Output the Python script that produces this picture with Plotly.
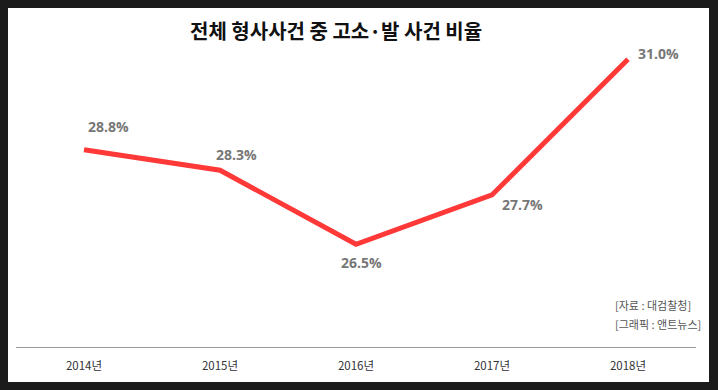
import plotly.graph_objects as go

years = ["2014년", "2015년", "2016년", "2017년", "2018년"]
ratios = [28.8, 28.3, 26.5, 27.7, 31.0]
labels = ["28.8%", "28.3%", "26.5%", "27.7%", "31.0%"]
label_shift_x = [24, 16, 5, 30, 30]
label_shift_y = [23, 16, -18, -10, 6]

W, H = 718, 390
ML, MR, MT, MB = 16, 22, 30, 43
pw, ph = W - ML - MR, H - MT - MB

def px(xpix):
    return (xpix - ML) / pw

def py(ypix):
    return (H - MB - ypix) / ph

fig = go.Figure()
fig.add_trace(go.Scatter(
    x=list(range(len(years))), y=ratios, mode="lines",
    line=dict(color="#ff3838", width=5),
    hoverinfo="skip", showlegend=False,
))

ann = []
for i, (v, t) in enumerate(zip(ratios, labels)):
    ann.append(dict(x=i, y=v, text=t, showarrow=False,
                    xshift=label_shift_x[i], yshift=label_shift_y[i],
                    font=dict(family="Open Sans", size=14, color="#777777", weight="bold")))

ann.append(dict(x=px(336), y=py(31), xref="paper", yref="paper",
                xanchor="center", yanchor="middle",
                text="<b>전체 형사사건 중 고소·발 사건 비율</b>", showarrow=False,
                font=dict(family="Noto Sans CJK KR", size=20, color="#111111")))
ann.append(dict(x=px(613), y=py(305), xref="paper", yref="paper",
                xanchor="left", yanchor="middle",
                text="[자료 : 대검찰청]", showarrow=False,
                font=dict(family="Noto Sans CJK KR", size=11, color="#555555")))
ann.append(dict(x=px(613), y=py(324), xref="paper", yref="paper",
                xanchor="left", yanchor="middle",
                text="[그래픽 : 앤트뉴스]", showarrow=False,
                font=dict(family="Noto Sans CJK KR", size=11, color="#555555")))

fig.update_layout(
    width=W, height=H,
    margin=dict(l=ML, r=MR, t=MT, b=MB),
    paper_bgcolor="#1b1b1b", plot_bgcolor="white",
    annotations=ann,
    shapes=[dict(type="rect", xref="paper", yref="paper",
                 x0=px(8), x1=px(709), y0=py(382), y1=py(8),
                 fillcolor="white", line=dict(width=0), layer="below")],
    xaxis=dict(range=[-0.5, 4.5], tickmode="array",
               tickvals=list(range(len(years))), ticktext=years,
               showgrid=False, zeroline=False, showline=True,
               linecolor="#9a9a9a", linewidth=1,
               ticks="outside", ticklen=8, tickcolor="rgba(0,0,0,0)",
               tickfont=dict(family="Noto Sans CJK KR", size=11.5, color="#333333")),
    yaxis=dict(range=[24, 24 + ph / 41.1], visible=False, showgrid=False),
)

fig.write_html("out.html", config={"displayModeBar": False},
               post_script="document.body.style.margin='0';document.body.style.overflow='hidden';")
